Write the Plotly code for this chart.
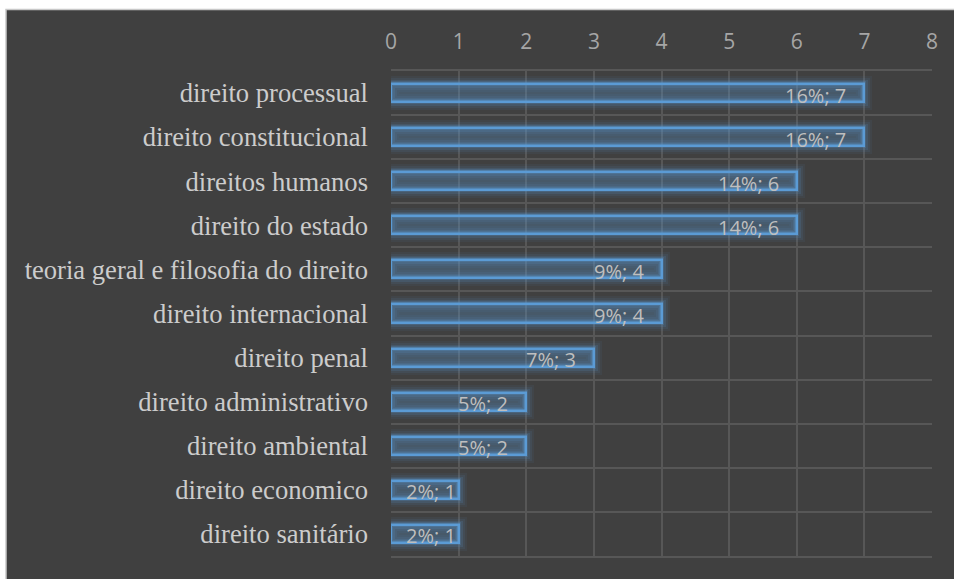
import plotly.graph_objects as go

# Ramos do direito e número de ocorrências
categorias = [
    "direito processual",
    "direito constitucional",
    "direitos humanos",
    "direito do estado",
    "teoria geral e filosofia do direito",
    "direito internacional",
    "direito penal",
    "direito administrativo",
    "direito ambiental",
    "direito economico",
    "direito sanitário",
]
valores = [7, 7, 6, 6, 4, 4, 3, 2, 2, 1, 1]
x_ticks = [0, 1, 2, 3, 4, 5, 6, 7, 8]

total = sum(valores)
rotulos = [f"{round(100 * v / total)}%; {v}" for v in valores]

W, H = 954, 579
ML, MR, MT, MB = 391, 22, 71, 23
BG = "#404040"
GRID = "#575757"
BLUE = "#5b9bd5"
BAR_W = 0.41

fig = go.Figure()

# soft glow around the bars
for lw, alpha in [(16, 0.06), (12, 0.09), (8, 0.14), (5, 0.2)]:
    fig.add_trace(go.Bar(
        x=valores, y=categorias, orientation="h", width=BAR_W,
        marker=dict(color="rgba(0,0,0,0)",
                    line=dict(color=f"rgba(91,155,213,{alpha})", width=lw)),
        hoverinfo="skip", showlegend=False,
    ))

fig.add_trace(go.Bar(
    x=valores, y=categorias, orientation="h", width=BAR_W,
    marker=dict(color="rgba(91,155,213,0.28)", line=dict(color=BLUE, width=2.5)),
    showlegend=False,
))

# value labels near the end of each bar
for c, v, t in zip(categorias, valores, rotulos):
    fig.add_annotation(
        x=v, y=c, text=t, showarrow=False, xanchor="right", yanchor="middle",
        xshift=-16 if v > 1 else -1, yshift=-2,
        font=dict(family="Open Sans", size=20, color="#bfbfbf"),
    )

# dark chart area with thin light border, white strip above
px2x = lambda px: (px - ML) / (W - ML - MR)
py2y = lambda py: (H - MB - py) / (H - MT - MB)
fig.add_shape(type="rect", xref="paper", yref="paper", layer="below",
              x0=px2x(6), x1=px2x(W + 2), y0=py2y(H + 2), y1=py2y(9.5),
              fillcolor=BG, line=dict(color="#c8c8c8", width=1.5))

fig.update_layout(
    width=W, height=H,
    margin=dict(l=ML, r=MR, t=MT, b=MB, pad=0),
    paper_bgcolor="white",
    plot_bgcolor="rgba(0,0,0,0)",
    barmode="overlay",
    bargap=0,
    xaxis=dict(
        side="top", range=[0, 8], tickvals=x_ticks,
        showgrid=True, gridcolor=GRID, gridwidth=1.5,
        zeroline=False, showline=True, mirror=True,
        linecolor=GRID, linewidth=1.5,
        ticks="", ticklabelstandoff=12,
        tickfont=dict(family="Open Sans", size=21, color="#a6a6a6"),
    ),
    yaxis=dict(
        type="category", autorange="reversed", tickson="boundaries",
        showgrid=True, gridcolor=GRID, gridwidth=1.5,
        zeroline=False, showline=False,
        ticks="", ticklabelstandoff=22,
        tickfont=dict(family="Liberation Serif", size=26.6, color="#cccccc"),
    ),
)

fig.write_html("out.html")
